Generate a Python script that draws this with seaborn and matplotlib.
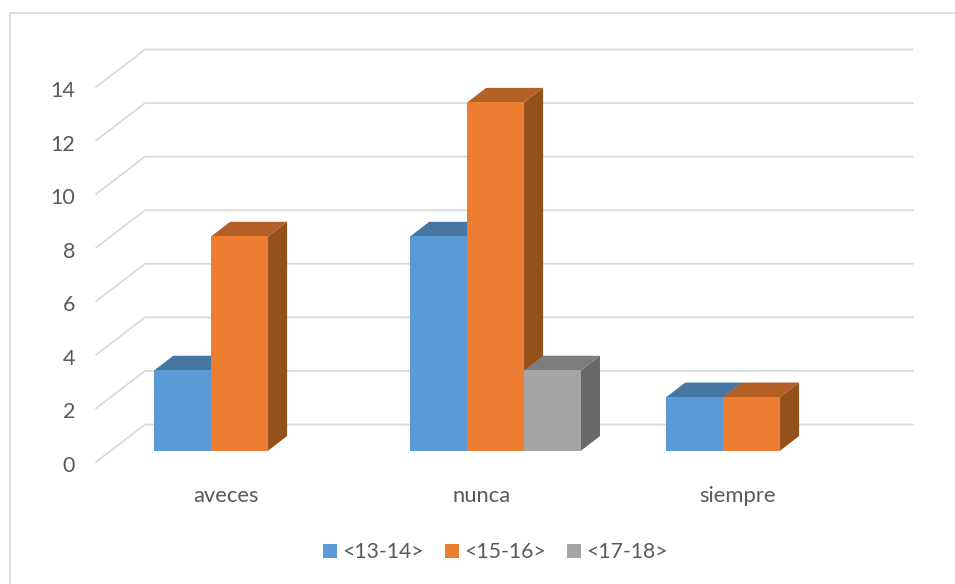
import pandas as pd
import matplotlib
matplotlib.use("Agg")
import matplotlib.pyplot as plt
from matplotlib.lines import Line2D
from matplotlib.patches import Polygon
from matplotlib.transforms import ScaledTranslation
import seaborn as sns

categories = ["aveces", "aveces", "nunca", "nunca", "nunca", "siempre", "siempre"]
age_groups = ["<13-14>", "<15-16>", "<13-14>", "<15-16>", "<17-18>", "<13-14>", "<15-16>"]
counts = [3, 8, 8, 13, 3, 2, 2]

category_order = ["aveces", "nunca", "siempre"]
hue_order = ["<13-14>", "<15-16>", "<17-18>"]
y_ticks = [0, 2, 4, 6, 8, 10, 12, 14]

front_colors = {"<13-14>": "#5B9BD5", "<15-16>": "#ED7D31", "<17-18>": "#A5A5A5"}
top_colors = {"<13-14>": "#4676A2", "<15-16>": "#B45F25", "<17-18>": "#7D7D7D"}
side_colors = {"<13-14>": "#3C6690", "<15-16>": "#95501C", "<17-18>": "#696969"}

TEXT = "#595959"
GRID = "#D9D9D9"
W, H = 955, 584

sns.set_theme(style="white")
plt.rcParams["font.family"] = ["Lato", "DejaVu Sans"]

df = pd.DataFrame({"cat": categories, "age": age_groups, "n": counts})


def px_box(left, right, top, bottom):
    return [left / W, 1 - bottom / H, (right - left) / W, (bottom - top) / H]


fig = plt.figure(figsize=(W / 100, H / 100), dpi=100, facecolor="white")

# chart border, only top and left show in the original
fig.add_artist(Line2D([9.5 / W, 9.5 / W, 1], [0, 1 - 13 / H, 1 - 13 / H], color=GRID, lw=1.3))

# front plane carries the axis labels
ax = fig.add_axes(px_box(96, 864, 87, 462))
ax.set_xlim(-0.5, 2.5)
ax.set_ylim(0, 14)
sns.despine(ax=ax, left=True, bottom=True)
ax.set_yticks(y_ticks)
ax.set_xticks(range(len(category_order)))
ax.set_xticklabels(category_order)
ax.tick_params(axis="y", length=0, pad=15, labelsize=15.5, labelcolor=TEXT)
ax.tick_params(axis="x", length=0, pad=17, labelsize=15.8, labelcolor=TEXT)

# nudge labels to where the original has them (pixels at dpi 100)
for lab in ax.get_yticklabels():
    lab.set_transform(lab.get_transform() + ScaledTranslation(0, -0.02, fig.dpi_scale_trans))
for lab in ax.get_xticklabels():
    lab.set_transform(lab.get_transform() + ScaledTranslation(0.015, 0, fig.dpi_scale_trans))

# wall lines go back from the front plane
wall_dx = 49 / 256
wall_dy = 37.5 / 26.79
for v in y_ticks:
    ax.plot([-0.5, -0.5 + wall_dx, 2.5 + wall_dx], [v, v + wall_dy, v + wall_dy],
            color=GRID, lw=1.3, clip_on=False, zorder=1)

# bars sit a bit further back, same scale
ax_bars = fig.add_axes(px_box(96 + 15.6, 864 + 15.6, 87 - 11.3, 462 - 11.3))
ax_bars.patch.set_alpha(0)
sns.barplot(data=df, x="cat", y="n", hue="age", order=category_order, hue_order=hue_order,
            palette=front_colors, width=0.667, saturation=1, gap=0, linewidth=0,
            ax=ax_bars, zorder=5)
handles, labels = ax_bars.get_legend_handles_labels()
ax_bars.get_legend().remove()
ax_bars.set_xlim(-0.5, 2.5)
ax_bars.set_ylim(0, 14)
ax_bars.axis("off")

bar_dx = 19 / 256
bar_dy = 14.6 / 26.79
for k, (name, container) in enumerate(zip(hue_order, ax_bars.containers)):
    for bar in container:
        h = bar.get_height()
        if not h > 0:
            continue
        bar.set_zorder(5 + k)
        x0 = bar.get_x()
        x1 = x0 + bar.get_width()
        ax_bars.add_patch(Polygon([(x0, h), (x1, h), (x1 + bar_dx, h + bar_dy), (x0 + bar_dx, h + bar_dy)],
                                  facecolor=top_colors[name], edgecolor="none", zorder=4.5 + k, clip_on=False))
        ax_bars.add_patch(Polygon([(x1, 0), (x1 + bar_dx, bar_dy), (x1 + bar_dx, h + bar_dy), (x1, h)],
                                  facecolor=side_colors[name], edgecolor="none", zorder=4.5 + k, clip_on=False))

for handle in handles:
    handle.set_linewidth(0)
fig.legend(handles, labels, loc="center", bbox_to_anchor=(495.5 / W, 1 - 552.5 / H), ncol=3, frameon=False,
           fontsize=15.2, labelcolor=TEXT, handlelength=0.66, handleheight=0.66, handletextpad=0.25,
           columnspacing=1.02, borderpad=0)

fig.savefig("out.png", dpi=100)
